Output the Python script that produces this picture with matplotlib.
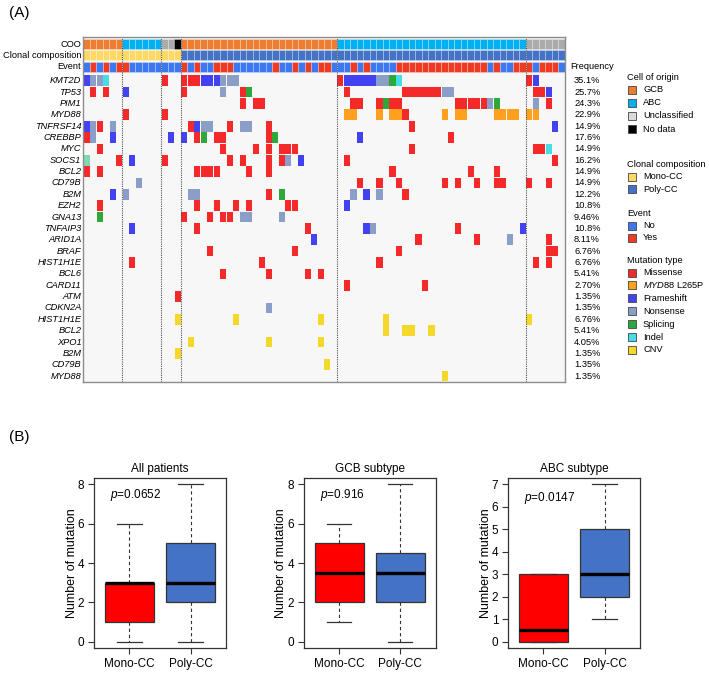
import matplotlib
matplotlib.use('Agg')
import matplotlib.pyplot as plt
from matplotlib.patches import Rectangle

plt.rcParams['font.family'] = ['Liberation Sans', 'DejaVu Sans']
plt.rcParams['mathtext.fontset'] = 'custom'
plt.rcParams['mathtext.rm'] = 'Liberation Sans'
plt.rcParams['mathtext.it'] = 'Liberation Sans:italic'

# ---------------- data: oncoprint ----------------
n_patients = 74
coo_groups = [('GCB', 6), ('ABC', 6), ('Unclassified', 2), ('No data', 1),
              ('GCB', 24), ('ABC', 29), ('Unclassified', 6)]
clonal_groups = [('Mono-CC', 15), ('Poly-CC', 59)]
event_yes = [1, 3, 5, 6, 15, 17, 20, 21, 22, 29, 32, 34, 36, 37, 41, 43,
             48, 49, 50, 51, 52, 53, 54, 55, 56, 57, 58, 59, 60, 61,
             63, 66, 67, 68, 70, 71, 72]
group_breaks = [6, 12, 15, 39, 68]

genes = ['KMT2D', 'TP53', 'PIM1', 'MYD88', 'TNFRSF14', 'CREBBP', 'MYC', 'SOCS1',
         'BCL2', 'CD79B', 'B2M', 'EZH2', 'GNA13', 'TNFAIP3', 'ARID1A', 'BRAF',
         'HIST1H1E', 'BCL6', 'CARD11', 'ATM', 'CDKN2A', 'HIST1H1E', 'BCL2',
         'XPO1', 'B2M', 'CD79B', 'MYD88']
freqs = ['35.1%', '25.7%', '24.3%', '22.9%', '14.9%', '17.6%', '14.9%', '16.2%',
         '14.9%', '14.9%', '12.2%', '10.8%', '9.46%', '10.8%', '8.11%', '6.76%',
         '6.76%', '5.41%', '2.70%', '1.35%', '1.35%', '6.76%', '5.41%', '4.05%',
         '1.35%', '1.35%', '1.35%']
# patient index + mutation code, one string per gene row
hits = [
    '0F 1N 2N 3I 12M 15M 16M 17M 18F 19F 20F 21N 22N 23N 39M 40F 41F 42F 43F 44F 45N 46N 47S 48I 68M 69F',
    '1M 3M 6F 15M 21N 24M 25S 40M 49M 50M 51M 52M 53M 54M 55N 56N 69M 70M 71F',
    '24M 26M 27M 41M 42M 45M 46S 47M 48M 57M 58M 59M 60M 61M 62N 63S 69N 71M',
    '6M 12M 40L 41L 45L 47L 48L 49M 55L 57L 58L 63L 64L 65L 66L 68L 69L',
    '0F 1N 2M 4N 16M 17F 18N 19N 22M 24N 25N 28M 50M 72F',
    '0M 1N 4F 13F 15F 17M 18S 20M 21M 28M 29S 42F 56M',
    '2M 21M 26M 28M 30M 31M 32M 50M 69M 70M 71I',
    '0O 5M 7F 12M 22M 24M 28M 30M 31N 33F 40M 72M',
    '0M 2M 17M 18M 19M 20M 25M 28M 47M 59M 63M',
    '8N 42M 45M 48M 55M 57M 60M 63M 64M 68M 71M',
    '4F 6N 16N 17N 28M 30S 41N 43F 45N 49M',
    '2M 17M 20M 23M 25M 31M 32M 40F',
    '2S 15M 19M 21M 22M 24N 25N 30N',
    '7F 17M 34M 43F 44N 57M 67F',
    '35F 51M 60M 65N 71M',
    '19M 32M 48M 71M 72M',
    '7M 27M 45M 69M 71M',
    '21M 28M 34M 36M',
    '40M 52M',
    '14M',
    '28N',
    '14C 23C 36C 46C 68C',
    '46C 49C 50C 53C',
    '16C 28C 36C',
    '14C',
    '37C',
    '55C',
]

coo_colors = {'GCB': '#ED7D31', 'ABC': '#00B0F0', 'Unclassified': '#ABABAB', 'No data': '#000000'}
clonal_colors = {'Mono-CC': '#FFD966', 'Poly-CC': '#4472C4'}
event_colors = {'No': '#3C78F0', 'Yes': '#EE3B24'}
mut_colors = {'M': '#F42A2A', 'L': '#FFA01E', 'F': '#4242F0', 'N': '#8A9EC8',
              'S': '#2EA83A', 'I': '#46DDE6', 'C': '#F5D92A', 'O': '#7FD9B0'}

# ---------------- data: box plots ----------------
panel_titles = ['All patients', 'GCB subtype', 'ABC subtype']
box_groups = ['Mono-CC', 'Poly-CC']
p_values = ['0.0652', '0.916', '0.0147']
whislo = [[0, 0], [1, 0], [0, 1]]
q1 = [[1, 2], [2, 2], [0, 2]]
med = [[2.97, 3], [3.5, 3.5], [0.5, 3]]
q3 = [[3, 5], [5, 4.5], [3, 5]]
whishi = [[6, 8], [6, 8], [3, 7]]
ymax = [8, 8, 7]
box_colors = ['#FF0000', '#4472C4']

W, H = 709, 685
fig = plt.figure(figsize=(W / 100, H / 100), dpi=100)

# overlay in pixel coordinates for labels / legend
lax = fig.add_axes([0, 0, 1, 1])
lax.set_xlim(0, W)
lax.set_ylim(H, 0)
lax.axis('off')

# ---------------- oncoprint ----------------
gx0, gx1, gy0, gy1 = 83.3, 565, 37, 382
ax = fig.add_axes([gx0 / W, 1 - gy1 / H, (gx1 - gx0) / W, (gy1 - gy0) / H])
pitch = 11.36
ax.set_xlim(0, n_patients)
ax.set_ylim((gy1 - gy0) / pitch, 0)
ax.set_facecolor('#F7F7F7')
ax.set_xticks([])
ax.set_yticks([])
for s in ax.spines.values():
    s.set_color('#8C8C8C')
    s.set_linewidth(1.0)

ann_y = [0.62, 1.62, 2.62]
gene_y0 = 3.85


def ann_cell(col, y, color):
    ax.add_patch(Rectangle((col, y - 0.44), 1, 0.88, facecolor=color,
                           edgecolor=(1, 1, 1, 0.35), linewidth=0.5))


col = 0
for name, n in coo_groups:
    for _ in range(n):
        ann_cell(col, ann_y[0], coo_colors[name])
        col += 1
col = 0
for name, n in clonal_groups:
    for _ in range(n):
        ann_cell(col, ann_y[1], clonal_colors[name])
        col += 1
for c in range(n_patients):
    ann_cell(c, ann_y[2], event_colors['Yes' if c in event_yes else 'No'])

for g, row in enumerate(hits):
    y = gene_y0 + g
    for tok in row.split():
        c, code = int(tok[:-1]), tok[-1]
        ax.add_patch(Rectangle((c + 0.03, y - 0.47), 0.94, 0.94, facecolor=mut_colors[code],
                               edgecolor='none'))

for b in group_breaks:
    ax.axvline(b, color='#555555', linestyle=(0, (1, 1)), linewidth=0.8)

fs = 6.7
for lab, y in zip(['COO', 'Clonal composition', 'Event'], ann_y):
    ax.text(-0.3, y, lab, ha='right', va='center', fontsize=fs, clip_on=False)
for g, (gene, fr) in enumerate(zip(genes, freqs)):
    y = gene_y0 + g
    ax.text(-0.3, y, gene, ha='right', va='center', fontsize=fs, style='italic', clip_on=False)
    ax.text(75.4, y, fr, ha='left', va='center', fontsize=fs, clip_on=False)
ax.text(74.8, ann_y[2], 'Frequency', ha='left', va='center', fontsize=fs, clip_on=False)

# legend
legend_blocks = [
    ('Cell of origin', 77, [('GCB', '#ED7D31'), ('ABC', '#00B0F0'),
                            ('Unclassified', '#D9D9D9'), ('No data', '#000000')], 13.2),
    ('Clonal composition', 164, [('Mono-CC', '#FFD966'), ('Poly-CC', '#4472C4')], 12.5),
    ('Event', 213, [('No', '#3C78F0'), ('Yes', '#EE3B24')], 12.2),
    ('Mutation type', 260, [('Missense', '#F42A2A'), (r'$\it{MYD88}$ L265P', '#FFA01E'),
                            ('Frameshift', '#4242F0'), ('Nonsense', '#8A9EC8'),
                            ('Splicing', '#2EA83A'), ('Indel', '#46DDE6'),
                            ('CNV', '#F5D92A')], 12.9),
]
for title, ty, items, step in legend_blocks:
    lax.text(627, ty, title, ha='left', va='center', fontsize=fs)
    for i, (lab, colr) in enumerate(items):
        yy = ty + 12.5 + i * step
        lax.add_patch(Rectangle((627.5, yy - 4), 8, 8, facecolor=colr,
                                edgecolor='#444444', linewidth=0.6))
        lax.text(643, yy, lab, ha='left', va='center', fontsize=fs)

lax.text(9, 13, '(A)', ha='left', va='center', fontsize=11)
lax.text(9, 437, '(B)', ha='left', va='center', fontsize=11)

# ---------------- box plots ----------------
panel_left = [94, 303.7, 508]
pw, ptop, pbot = 132, 478, 648
for k in range(3):
    bax = fig.add_axes([panel_left[k] / W, 1 - pbot / H, pw / W, (pbot - ptop) / H])
    stats = []
    for j in range(2):
        stats.append(dict(whislo=whislo[k][j], q1=q1[k][j], med=med[k][j],
                          q3=q3[k][j], whishi=whishi[k][j], fliers=[]))
    bp = bax.bxp(stats, positions=[1, 2], widths=0.8, patch_artist=True,
                 showfliers=False, capwidths=0.4,
                 boxprops=dict(edgecolor='#333333', linewidth=0.9),
                 whiskerprops=dict(color='#333333', linestyle=(0, (3, 2.5)), linewidth=0.8),
                 capprops=dict(color='#333333', linewidth=0.9),
                 medianprops=dict(color='black', linewidth=2.4, solid_capstyle='butt'))
    for patch, colr in zip(bp['boxes'], box_colors):
        patch.set_facecolor(colr)
    ext = ymax[k] * 0.04
    bax.set_ylim(-ext, ymax[k] + ext)
    bax.set_xlim(0.42, 2.58)
    bax.set_yticks(range(0, ymax[k] + 1, 2 if ymax[k] == 8 else 1))
    bax.set_xticks([1, 2])
    bax.set_xticklabels(box_groups)
    bax.tick_params(labelsize=8.5, length=4, width=0.8, color='#333333', pad=3)
    for s in bax.spines.values():
        s.set_color('#333333')
        s.set_linewidth(0.9)
    bax.set_title(panel_titles[k], fontsize=8.5, pad=4)
    bax.set_ylabel('Number of mutation', fontsize=9, labelpad=0)
    ptext_y = 7.45 if k < 2 else 6.4
    bax.text(0.68, ptext_y, r'$p$=' + p_values[k], ha='left', va='center', fontsize=8.5)

fig.savefig('out.png', dpi=100)
